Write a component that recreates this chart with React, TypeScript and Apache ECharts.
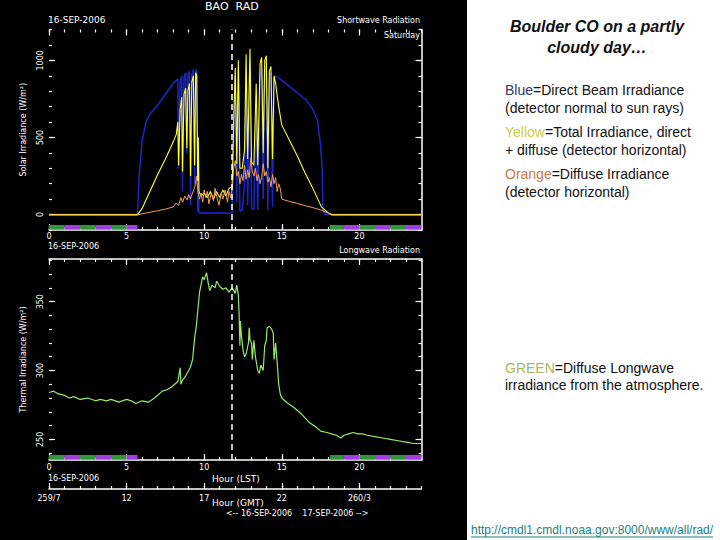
import { useEffect, useRef } from 'react';
import * as echarts from 'echarts';

// ---------- data ----------
const hourMinorTicks = [0, 1, 2, 3, 4, 5, 6, 7, 8, 9, 10, 11, 12, 13, 14, 15, 16, 17, 18, 19, 20, 21, 22, 23, 24];
const hourMajorTicks = [0, 5, 10, 15, 20];
const lstLabels = ['0', '5', '10', '15', '20'];
const gmtLabels = ['259/7', '12', '17', '22', '260/3'];
const solarMinorTicks = [-100, 0, 100, 200, 300, 400, 500, 600, 700, 800, 900, 1000, 1100, 1200];
const solarMajorTicks = [0, 500, 1000];
const thermalMinorTicks = [240, 250, 260, 270, 280, 290, 300, 310, 320, 330, 340, 350, 360, 370, 380];
const thermalMajorTicks = [250, 300, 350];
const solarNoon = 11.8;
// [start hour, end hour, 0 = green / 1 = purple]
const nightBands = [
  [0, 1, 0], [1, 2, 1], [2, 3, 0], [3, 4, 1], [4, 5, 0], [5, 5.7, 1],
  [18.1, 19, 0], [19, 20, 1], [20, 21, 0], [21, 22, 1], [22, 23, 0], [23, 24, 1],
];

const directBeam = [
  [0, 0], [5.7, 0], [5.8, 240], [6.0, 480], [6.25, 600], [6.5, 650], [7.0, 710], [7.5, 780], [8.0, 850],
  [8.2, 870], [8.3, 880], [8.35, 300], [8.45, 860], [8.55, 900], [8.6, 150], [8.7, 890], [8.8, 920],
  [8.88, 400], [8.95, 910], [9.05, 930], [9.12, 60], [9.2, 900], [9.3, 940], [9.38, 200], [9.45, 930],
  [9.52, 940], [9.58, 20], [9.62, 400], [9.66, 10], [10.0, 12], [10.5, 10], [11.0, 12], [11.5, 8], [11.8, 10],
  [11.9, 500], [12.0, 900], [12.1, 80], [12.2, 950], [12.3, 20], [12.45, 30], [12.6, 200], [12.7, 960],
  [12.8, 60], [12.95, 980], [13.05, 40], [13.2, 30], [13.35, 700], [13.45, 30], [13.6, 900], [13.7, 950],
  [13.8, 100], [13.9, 940], [14.0, 960], [14.1, 30], [14.2, 880], [14.3, 920], [14.4, 50], [14.5, 880],
  [14.6, 900], [15.0, 870], [15.5, 830], [16.0, 790], [16.6, 740], [17.0, 680], [17.3, 610], [17.5, 450],
  [17.6, 300], [17.65, 30], [17.8, 0], [24, 0],
];

const totalIrradiance = [
  [0, 0], [5.7, 0], [6.0, 40], [6.5, 150], [7.0, 260], [7.5, 360], [8.0, 470], [8.2, 520], [8.3, 600],
  [8.35, 320], [8.45, 680], [8.55, 760], [8.6, 280], [8.7, 780], [8.8, 820], [8.88, 430], [8.95, 800],
  [9.05, 850], [9.12, 250], [9.2, 860], [9.3, 900], [9.38, 320], [9.45, 920], [9.52, 900], [9.58, 220],
  [9.62, 500], [9.66, 150], [9.8, 120], [10.0, 140], [10.2, 110], [10.4, 150], [10.6, 100], [10.8, 150],
  [11.0, 110], [11.2, 160], [11.4, 120], [11.6, 170], [11.8, 180], [11.9, 600], [12.0, 950], [12.1, 330],
  [12.2, 1000], [12.3, 300], [12.45, 300], [12.6, 420], [12.7, 1040], [12.8, 360], [12.95, 1075],
  [13.05, 340], [13.2, 320], [13.35, 850], [13.45, 320], [13.6, 980], [13.7, 1020], [13.8, 400],
  [13.9, 1000], [14.0, 1030], [14.1, 300], [14.2, 930], [14.3, 960], [14.4, 360], [14.5, 900], [14.6, 850],
  [14.8, 700], [15.0, 580], [15.5, 480], [16.0, 380], [16.5, 270], [17.0, 170], [17.55, 50], [18.0, 10],
  [18.2, 0], [24, 0],
];

const diffuseIrradiance = [
  [0, -3], [5.7, -3], [6.0, 5], [6.5, 15], [7.0, 25], [7.5, 35], [8.0, 50], [8.2, 75], [8.35, 60], [8.5, 110],
  [8.6, 80], [8.75, 120], [8.9, 95], [9.0, 130], [9.1, 100], [9.25, 140], [9.4, 180], [9.5, 250], [9.6, 150],
  [9.7, 100], [9.8, 140], [9.9, 80], [10.0, 160], [10.1, 110], [10.2, 150], [10.3, 70], [10.45, 140],
  [10.6, 90], [10.7, 170], [10.8, 120], [10.95, 60], [11.1, 140], [11.2, 100], [11.35, 160], [11.5, 80],
  [11.6, 150], [11.7, 110], [11.8, 170], [11.9, 300], [12.0, 350], [12.1, 250], [12.2, 280], [12.3, 200],
  [12.4, 260], [12.5, 220], [12.6, 320], [12.7, 230], [12.8, 290], [12.9, 240], [13.0, 370], [13.1, 280],
  [13.2, 250], [13.3, 300], [13.4, 220], [13.5, 260], [13.6, 200], [13.7, 240], [13.8, 330], [13.9, 250],
  [14.0, 280], [14.1, 210], [14.2, 240], [14.3, 180], [14.4, 260], [14.5, 200], [14.6, 240], [14.7, 150],
  [14.8, 200], [14.9, 170], [15.0, 100], [15.5, 85], [16.0, 72], [16.5, 58], [17.0, 45], [17.5, 30],
  [18.0, 10], [18.2, -3], [24, -3],
];

const longwave = [
  [0, 284], [0.3, 285], [0.6, 283], [1.0, 282], [1.3, 280], [1.6, 281], [2.0, 279], [2.5, 280], [3.0, 278],
  [3.3, 279], [3.7, 278], [4.0, 279], [4.5, 277], [5.0, 279], [5.3, 278], [5.6, 276], [6.0, 278], [6.4, 277],
  [6.8, 280], [7.0, 282], [7.3, 285], [7.6, 286], [7.9, 288], [8.1, 290], [8.3, 292], [8.45, 302], [8.5, 290],
  [8.6, 293], [8.8, 296], [9.0, 300], [9.1, 302], [9.25, 308], [9.4, 325], [9.5, 333], [9.6, 345], [9.7, 357],
  [9.9, 368], [10.0, 366], [10.15, 371], [10.25, 364], [10.35, 358], [10.5, 362], [10.7, 360], [10.8, 365],
  [11.0, 361], [11.2, 359], [11.4, 360], [11.6, 357], [11.8, 360], [12.0, 356], [12.1, 362], [12.2, 355],
  [12.25, 340], [12.3, 318], [12.33, 336], [12.4, 325], [12.5, 315], [12.6, 310], [12.7, 312], [12.85, 320],
  [12.9, 331], [12.95, 322], [13.05, 320], [13.1, 308], [13.2, 322], [13.3, 310], [13.45, 300], [13.55, 298],
  [13.65, 304], [13.8, 300], [13.9, 318], [14.0, 322], [14.05, 331], [14.2, 332], [14.35, 330], [14.45, 327],
  [14.5, 308], [14.6, 320], [14.7, 306], [14.8, 290], [14.9, 283], [15.0, 280], [15.3, 277], [15.8, 273],
  [16.3, 268], [16.8, 262], [17.2, 259], [17.5, 256], [17.9, 255], [18.2, 254], [18.5, 253], [18.8, 251],
  [19.0, 253], [19.3, 254], [19.6, 255], [19.9, 254], [20.2, 254], [20.5, 253], [21.0, 252], [21.5, 251],
  [22.0, 250], [22.5, 249], [23.0, 248], [23.5, 247], [24, 247],
];

// ---------- styles ----------
const W = '#ffffff';
const FONT = 'DejaVu Sans';
const BODY_FONT = 'Liberation Sans';
const BAND_COLORS = ['#30963a', '#a23ee0'];

function xAxisDef(gridIndex: number, position: string, ticks: number[], tickLen: number, showLine: boolean, offset: number, labels?: string[], margin?: number) {
  return {
    type: 'value', gridIndex, position, offset, min: 0, max: 24,
    axisLine: { show: showLine, onZero: false, lineStyle: { color: W, width: 1.5 } },
    axisTick: { show: true, inside: true, length: tickLen, customValues: ticks, lineStyle: { color: W, width: 1.2 } },
    axisLabel: labels
      ? {
          show: true, customValues: hourMajorTicks, color: W, fontSize: 8, fontFamily: FONT, margin: margin ?? 4,
          formatter: (v: number) => labels[hourMajorTicks.indexOf(v)] ?? '',
        }
      : { show: false },
    splitLine: { show: false },
  };
}

function yAxisDef(gridIndex: number, position: string, min: number, max: number, ticks: number[], tickLen: number, showLine: boolean, labelVals?: number[], name?: string) {
  return {
    type: 'value', gridIndex, position, min, max,
    name: name ?? '', nameLocation: 'middle', nameGap: 22,
    nameTextStyle: { color: W, fontSize: 8, fontFamily: FONT },
    axisLine: { show: showLine, onZero: false, lineStyle: { color: W, width: 1.5 } },
    axisTick: { show: true, inside: true, length: tickLen, customValues: ticks, lineStyle: { color: W, width: 1.2 } },
    axisLabel: labelVals
      ? {
          show: true, customValues: labelVals, rotate: 90, color: W, fontSize: 8, fontFamily: FONT, margin: 5,
          formatter: (v: number) => String(v),
        }
      : { show: false },
    splitLine: { show: false },
  };
}

const nightRender = (params: any, api: any) => {
  const x0 = api.coord([api.value(0), 0])[0];
  const x1 = api.coord([api.value(1), 0])[0];
  const cs = params.coordSys;
  const bottom = cs.y + cs.height;
  return {
    type: 'rect',
    shape: { x: x0, y: bottom - 5, width: x1 - x0, height: 4.5 },
    style: { fill: BAND_COLORS[api.value(2)] },
  };
};

const noonLine = {
  silent: true, symbol: ['none', 'none'], label: { show: false },
  lineStyle: { color: W, type: [6, 4], width: 1.5 },
  data: [{ xAxis: solarNoon }],
};

function smallText(text: string, x: number, y: number, align = 'left', size = 8) {
  return {
    type: 'text', x, y, z: 5,
    style: { text, fill: W, fontSize: size, fontFamily: FONT, align, verticalAlign: 'middle' },
  };
}

function bodyText(text: string, x: number, y: number, rich?: Record<string, string>) {
  const richStyles: Record<string, any> = {};
  if (rich) {
    Object.keys(rich).forEach((k) => {
      richStyles[k] = { fill: rich[k], fontSize: 14, fontFamily: BODY_FONT };
    });
  }
  return {
    type: 'text', x, y, z: 5,
    style: { text, fill: '#111111', fontSize: 14, fontFamily: BODY_FONT, align: 'left', verticalAlign: 'middle', rich: richStyles },
  };
}

const option: any = {
  animation: false,
  backgroundColor: '#ffffff',
  grid: [
    { left: 49, top: 29.5, width: 372.5, height: 200.5 },
    { left: 49, top: 259, width: 372.5, height: 201 },
  ],
  xAxis: [
    xAxisDef(0, 'bottom', hourMinorTicks, 3, true, 0),
    xAxisDef(0, 'bottom', hourMajorTicks, 6, false, 0, lstLabels, 2),
    xAxisDef(0, 'top', hourMinorTicks, 3, false, 0),
    xAxisDef(0, 'top', hourMajorTicks, 6, false, 0),
    xAxisDef(1, 'bottom', hourMinorTicks, 3, true, 0),
    xAxisDef(1, 'bottom', hourMajorTicks, 6, false, 0, lstLabels, 3),
    xAxisDef(1, 'top', hourMinorTicks, 3, true, 0),
    xAxisDef(1, 'top', hourMajorTicks, 6, false, 0),
    xAxisDef(1, 'bottom', hourMinorTicks, 3, true, 29),
    xAxisDef(1, 'bottom', hourMajorTicks, 6, false, 29, gmtLabels, 5),
  ],
  yAxis: [
    yAxisDef(0, 'left', -100, 1200, solarMinorTicks, 3, false),
    yAxisDef(0, 'left', -100, 1200, solarMajorTicks, 6, false, solarMajorTicks, 'Solar Irradiance (W/m²)'),
    yAxisDef(0, 'right', -100, 1200, solarMinorTicks, 3, true),
    yAxisDef(0, 'right', -100, 1200, solarMajorTicks, 6, false),
    yAxisDef(1, 'left', 235, 381, thermalMinorTicks, 3, false),
    yAxisDef(1, 'left', 235, 381, thermalMajorTicks, 6, false, thermalMajorTicks, 'Thermal Irradiance (W/m²)'),
    yAxisDef(1, 'right', 235, 381, thermalMinorTicks, 3, true),
    yAxisDef(1, 'right', 235, 381, thermalMajorTicks, 6, false),
  ],
  series: [
    {
      name: 'Direct Beam', type: 'line', xAxisIndex: 0, yAxisIndex: 0, data: directBeam,
      showSymbol: false, symbol: 'none', lineStyle: { color: '#1c26c8', width: 1.5 }, z: 2,
    },
    {
      name: 'Total', type: 'line', xAxisIndex: 0, yAxisIndex: 0, data: totalIrradiance,
      showSymbol: false, symbol: 'none', lineStyle: { color: '#ffff30', width: 1.1 }, z: 3,
    },
    {
      name: 'Diffuse', type: 'line', xAxisIndex: 0, yAxisIndex: 0, data: diffuseIrradiance,
      showSymbol: false, symbol: 'none', lineStyle: { color: '#f0a060', width: 1 }, z: 4,
      markLine: noonLine,
    },
    {
      name: 'Night SW', type: 'custom', xAxisIndex: 0, yAxisIndex: 0, data: nightBands,
      renderItem: nightRender, z: 5, silent: true,
    },
    {
      name: 'Longwave', type: 'line', xAxisIndex: 4, yAxisIndex: 4, data: longwave,
      showSymbol: false, symbol: 'none', lineStyle: { color: '#98e868', width: 1.2 }, z: 3,
      markLine: noonLine,
    },
    {
      name: 'Night LW', type: 'custom', xAxisIndex: 4, yAxisIndex: 4, data: nightBands,
      renderItem: nightRender, z: 5, silent: true,
    },
  ],
  graphic: [
    { type: 'rect', z: 0, shape: { x: 0, y: 0, width: 467, height: 540 }, style: { fill: '#000000' } },
    smallText('BAO  RAD', 205, 6, 'left', 11),
    smallText('16-SEP-2006', 48, 20, 'left', 9),
    smallText('Shortwave Radiation', 420, 20, 'right', 8),
    smallText('Saturday', 420, 35, 'right', 8),
    smallText('16-SEP-2006', 48, 246.5, 'left', 8),
    smallText('Longwave Radiation', 420, 250, 'right', 8),
    smallText('16-SEP-2006', 48, 478.5, 'left', 8),
    smallText('Hour (LST)', 212, 479, 'left', 9),
    smallText('Hour (GMT)', 212, 503, 'left', 9),
    smallText('<-- 16-SEP-2006    17-SEP-2006 -->', 226, 513, 'left', 8),
    {
      type: 'text', x: 597, y: 26, z: 5,
      style: { text: 'Boulder CO on a partly', fill: '#111111', fontSize: 16, fontFamily: BODY_FONT, fontWeight: 'bold', fontStyle: 'italic', align: 'center', verticalAlign: 'middle' },
    },
    {
      type: 'text', x: 597, y: 47, z: 5,
      style: { text: 'cloudy day…', fill: '#111111', fontSize: 16, fontFamily: BODY_FONT, fontWeight: 'bold', fontStyle: 'italic', align: 'center', verticalAlign: 'middle' },
    },
    bodyText('{c|Blue}=Direct Beam Irradiance', 505, 90, { c: '#35355e' }),
    bodyText('(detector normal to sun rays)', 505, 108),
    bodyText('{c|Yellow}=Total Irradiance, direct', 505, 132, { c: '#cccc4a' }),
    bodyText('+ diffuse (detector horizontal)', 505, 150),
    bodyText('{c|Orange}=Diffuse Irradiance', 505, 174, { c: '#c8784a' }),
    bodyText('(detector horizontal)', 505, 192),
    bodyText('{c|GREEN}=Diffuse Longwave', 505, 368, { c: '#a8b860' }),
    bodyText('irradiance from the atmosphere.', 505, 385),
    {
      type: 'text', x: 471, y: 530, z: 5,
      style: { text: 'http://cmdl1.cmdl.noaa.gov:8000/www/all/rad/', fill: '#1b8080', fontSize: 12, fontFamily: BODY_FONT, align: 'left', verticalAlign: 'middle' },
    },
    { type: 'line', z: 5, shape: { x1: 471, y1: 537, x2: 713, y2: 537 }, style: { stroke: '#1b8080', lineWidth: 1 } },
  ],
};

export default function App() {
  const ref = useRef<HTMLDivElement>(null);
  useEffect(() => {
    if (!ref.current) return;
    const chart = echarts.init(ref.current, null, { renderer: 'svg' });
    chart.setOption(option);
    return () => chart.dispose();
  }, []);
  return <div ref={ref} style={{ position: 'absolute', left: 0, top: 0, width: 720, height: 540 }} />;
}
